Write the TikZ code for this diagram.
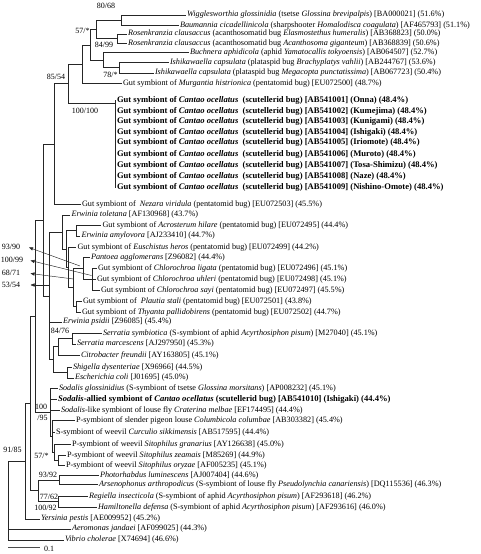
\documentclass[tikz,border=0pt]{standalone}
\usepackage{fontspec}
\setmainfont{Liberation Serif}
\usetikzlibrary{arrows.meta}
\begin{document}
\begin{tikzpicture}[x=1pt,y=-1pt,
  br/.style={line width=0.6pt, draw=black!85},
  lf/.style={anchor=west, inner xsep=1.3pt, inner ysep=0pt, font=\fontsize{8.2}{9}\selectfont},
  lfb/.style={lf, font=\fontsize{8.6}{9}\selectfont\bfseries},
  bs/.style={inner sep=0pt, font=\fontsize{8}{9}\selectfont},
  callout/.style={line width=0.45pt, draw=black!85, -{Triangle[length=4pt,width=3.2pt]}}]
\useasboundingbox (0,0) rectangle (480,554);
% internal nodes
\coordinate (A) at (121,20.25);
\coordinate (B) at (117,38.75);
\coordinate (C) at (96,29.5);
\coordinate (E) at (119,67.75);
\coordinate (D) at (103,60.1);
\coordinate (F) at (90.7,44.8);
\coordinate (G) at (82,64.2);
\coordinate (I) at (115,103);
\coordinate (H) at (68,83.6);
\coordinate (K) at (54,143.8);
\coordinate (L) at (76,230.75);
\coordinate (CH) at (92,279.25);
\coordinate (PA) at (83,268.4);
\coordinate (PT) at (76,306.5);
\coordinate (PB) at (73,287.4);
\coordinate (PC) at (68,267.2);
\coordinate (M) at (66,249);
\coordinate (N) at (62,232);
\coordinate (Q) at (72,338.5);
\coordinate (R) at (58,346.75);
\coordinate (SE) at (67,372.75);
\coordinate (S) at (53,359.75);
\coordinate (T) at (49,295.9);
\coordinate (J) at (43,219.8);
\coordinate (U) at (58,460.25);
\coordinate (V) at (54,452.4);
\coordinate (EE) at (52,436.4);
\coordinate (DD) at (50,412.5);
\coordinate (CC) at (35,316.1);
\coordinate (W) at (59,480);
\coordinate (Y) at (58,501.5);
\coordinate (X) at (38,490.75);
\coordinate (BB) at (30,403.4);
\coordinate (AA) at (25,461.2);
\coordinate (RT) at (8,461.2);
% leaves
\node[lf] (l1) at (185.5,15) {\textit{Wigglesworthia glossinidia} (tsetse \textit{Glossina brevipalpis}) [BA000021] (51.6\%)};
\node[lf] (l2) at (178.5,25.5) {\textit{Baumannia cicadellinicola} (sharpshooter \textit{Homalodisca coagulata}) [AF465793] (51.1\%)};
\node[lf] (l3) at (126.5,34) {\textit{Rosenkranzia clausaccus} (acanthosomatid bug \textit{Elasmostethus humeralis}) [AB368823] (50.0\%)};
\node[lf] (l4) at (126.5,43.5) {\textit{Rosenkranzia clausaccus} (acanthosomatid bug \textit{Acanthosoma giganteum}) [AB368839] (50.6\%)};
\node[lf] (l5) at (188.5,52.5) {\textit{Buchnera aphidicola} (aphid \textit{Yamatocallis tokyoensis}) [AB064507] (52.7\%)};
\node[lf] (l6) at (168.5,62.5) {\textit{Ishikawaella capsulata} (plataspid bug \textit{Brachyplatys vahlii}) [AB244767] (53.6\%)};
\node[lf] (l7) at (153.5,73) {\textit{Ishikawaella capsulata} (plataspid bug \textit{Megacopta punctatissima}) [AB067723] (50.4\%)};
\node[lf] (l8) at (121.5,83.5) {Gut symbiont of \textit{Murgantia histrionica} (pentatomid bug) [EU072500] (48.7\%)};
\node[lfb] (l9) at (115.5,100) {Gut symbiont of \textit{Cantao ocellatus}\ \ (scutellerid bug) [AB541001] (Onna) (48.4\%)};
\node[lfb] (l10) at (115.5,111) {Gut symbiont of \textit{Cantao ocellatus}\ \ (scutellerid bug) [AB541002] (Kumejima) (48.4\%)};
\node[lfb] (l11) at (115.5,121.5) {Gut symbiont of \textit{Cantao ocellatus}\ \ (scutellerid bug) [AB541003] (Kunigami) (48.4\%)};
\node[lfb] (l12) at (115.5,132) {Gut symbiont of \textit{Cantao ocellatus}\ \ (scutellerid bug) [AB541004] (Ishigaki) (48.4\%)};
\node[lfb] (l13) at (115.5,142.5) {Gut symbiont of \textit{Cantao ocellatus}\ \ (scutellerid bug) [AB541005] (Iriomote) (48.4\%)};
\node[lfb] (l14) at (115.5,154) {Gut symbiont of \textit{Cantao ocellatus}\ \ (scutellerid bug) [AB541006] (Muroto) (48.4\%)};
\node[lfb] (l15) at (115.5,165) {Gut symbiont of \textit{Cantao ocellatus}\ \ (scutellerid bug) [AB541007] (Tosa-Shimizu) (48.4\%)};
\node[lfb] (l16) at (115.5,176) {Gut symbiont of \textit{Cantao ocellatus}\ \ (scutellerid bug) [AB541008] (Naze) (48.4\%)};
\node[lfb] (l17) at (115.5,187) {Gut symbiont of \textit{Cantao ocellatus}\ \ (scutellerid bug) [AB541009] (Nishino-Omote) (48.4\%)};
\node[lf] (l18) at (80.5,204) {Gut symbiont of\ \ \textit{Nezara viridula} (pentatomid bug) [EU072503] (45.5\%)};
\node[lf] (l19) at (70,215) {\textit{Erwinia toletana} [AF130968] (43.7\%)};
\node[lf] (l20) at (101,225.5) {Gut symbiont of \textit{Acrosterum hilare} (pentatomid bug) [EU072495] (44.4\%)};
\node[lf] (l21) at (80,236) {\textit{Erwinia amylovora} [AJ233410] (44.7\%)};
\node[lf] (l22) at (76,247) {Gut symbiont of \textit{Euschistus heros} (pentatomid bug) [EU072499] (44.2\%)};
\node[lf] (l23) at (89.5,257.5) {\textit{Pantoea agglomerans} [Z96082] (44.4\%)};
\node[lf] (l24) at (96.5,268.5) {Gut symbiont of \textit{Chlorochroa ligata} (pentatomid bug) [EU072496] (45.1\%)};
\node[lf] (l25) at (95.5,279) {Gut symbiont of \textit{Chlorochroa uhleri} (pentatomid bug) [EU072498] (45.1\%)};
\node[lf] (l26) at (99.5,290) {Gut symbiont of \textit{Chlorochroa sayi} (pentatomid bug) [EU072497] (45.5\%)};
\node[lf] (l27) at (81.5,301) {Gut symbiont of\ \ \textit{Plautia stali} (pentatomid bug) [EU072501] (43.8\%)};
\node[lf] (l28) at (80.5,312) {Gut symbiont of \textit{Thyanta pallidobirens} (pentatomid bug) [EU072502] (44.7\%)};
\node[lf] (l29) at (61.5,322) {\textit{Erwinia psidii} [Z96085] (45.4\%)};
\node[lf] (l30) at (101.5,333) {\textit{Serratia symbiotica} (S-symbiont of aphid \textit{Acyrthosiphon pisum}) [M27040] (45.1\%)};
\node[lf] (l31) at (75.5,344) {\textit{Serratia marcescens} [AJ297950] (45.3\%)};
\node[lf] (l32) at (79.5,355) {\textit{Citrobacter freundii} [AY163805] (45.1\%)};
\node[lf] (l33) at (71.5,367.5) {\textit{Shigella dysenteriae} [X96966] (44.5\%)};
\node[lf] (l34) at (73.5,378) {\textit{Escherichia coli} [J01695] (45.0\%)};
\node[lf] (l35) at (57.5,388.5) {\textit{Sodalis glossinidius} (S-symbiont of tsetse \textit{Glossina morsitans}) [AP008232] (45.1\%)};
\node[lfb] (l36) at (56.5,399) {\textit{Sodalis}-allied symbiont of \textit{Cantao ocellatus} (scutellerid bug) [AB541010] (Ishigaki) (44.4\%)};
\node[lf] (l37) at (59.5,410) {\textit{Sodalis}-like symbiont of louse fly \textit{Craterina melbae} [EF174495] (44.4\%)};
\node[lf] (l38) at (74.5,420.5) {P-symbiont of slender pigeon louse \textit{Columbicola columbae} [AB303382] (45.4\%)};
\node[lf] (l39) at (54.5,432) {S-symbiont of weevil \textit{Curculio sikkimensis} [AB517595] (44.4\%)};
\node[lf] (l40) at (70.5,444.5) {P-symbiont of weevil \textit{Sitophilus granarius} [AY126638] (45.0\%)};
\node[lf] (l41) at (65.5,455) {P-symbiont of weevil \textit{Sitophilus zeamais} [M85269] (44.9\%)};
\node[lf] (l42) at (64.5,465.5) {P-symbiont of weevil \textit{Sitophilus oryzae} [AF005235] (45.1\%)};
\node[lf] (l43) at (98.5,475.5) {\textit{Photorhabdus luminescens} [AJ007404] (44.6\%)};
\node[lf] (l44) at (97.5,484.5) {\textit{Arsenophonus arthropodicus} (S-symbiont of louse fly \textit{Pseudolynchia canariensis}) [DQ115536] (46.3\%)};
\node[lf] (l45) at (87.5,496) {\textit{Regiella insecticola} (S-symbiont of aphid \textit{Acyrthosiphon pisum}) [AF293618] (46.2\%)};
\node[lf] (l46) at (96.5,507) {\textit{Hamiltonella defensa} (S-symbiont of aphid \textit{Acyrthosiphon pisum}) [AF293616] (46.0\%)};
\node[lf] (l47) at (39.5,519) {\textit{Yersinia pestis} [AE009952] (45.2\%)};
\node[lf] (l48) at (70.5,529) {\textit{Aeromonas jandaei} [AF099025] (44.3\%)};
\node[lf] (l49) at (63.5,540) {\textit{Vibrio cholerae} [X74694] (46.6\%)};
% branches
\draw[br] (A) |- (l1.west) (A) |- (l2.west);
\draw[br] (B) |- (l3.west) (B) |- (l4.west);
\draw[br] (C) |- (A) (C) |- (B);
\draw[br] (E) |- (l6.west) (E) |- (l7.west);
\draw[br] (D) |- (l5.west) (D) |- (E);
\draw[br] (F) |- (C) (F) |- (D);
\draw[br] (G) |- (F) (G) |- (l8.west);
\draw[br] (I) |- (l9.west) (I) |- (l10.west) (I) |- (l11.west) (I) |- (l12.west) (I) |- (l13.west) (I) |- (l14.west) (I) |- (l15.west) (I) |- (l16.west) (I) |- (l17.west);
\draw[br] (H) |- (G) (H) |- (I);
\draw[br] (K) |- (H) (K) |- (l18.west);
\draw[br] (L) |- (l20.west) (L) |- (l21.west);
\draw[br] (CH) |- (l24.west) (CH) |- (l25.west) (CH) |- (l26.west);
\draw[br] (PA) |- (l23.west) (PA) |- (CH);
\draw[br] (PT) |- (l27.west) (PT) |- (l28.west);
\draw[br] (PB) |- (PA) (PB) |- (PT);
\draw[br] (PC) |- (l22.west) (PC) |- (PB);
\draw[br] (M) |- (L) (M) |- (PC);
\draw[br] (N) |- (l19.west) (N) |- (M);
\draw[br] (Q) |- (l30.west) (Q) |- (l31.west);
\draw[br] (R) |- (Q) (R) |- (l32.west);
\draw[br] (SE) |- (l33.west) (SE) |- (l34.west);
\draw[br] (S) |- (R) (S) |- (SE);
\draw[br] (T) |- (N) (T) |- (l29.west) (T) |- (S);
\draw[br] (J) |- (K) (J) |- (T);
\draw[br] (U) |- (l41.west) (U) |- (l42.west);
\draw[br] (V) |- (l40.west) (V) |- (U);
\draw[br] (EE) |- (l38.west) (EE) |- (l39.west) (EE) |- (V);
\draw[br] (DD) |- (l35.west) (DD) |- (l36.west) (DD) |- (l37.west) (DD) |- (EE);
\draw[br] (CC) |- (J) (CC) |- (DD);
\draw[br] (W) |- (l43.west) (W) |- (l44.west);
\draw[br] (Y) |- (l45.west) (Y) |- (l46.west);
\draw[br] (X) |- (W) (X) |- (Y);
\draw[br] (BB) |- (CC) (BB) |- (X);
\draw[br] (AA) |- (BB) (AA) |- (l47.west);
\draw[br] (RT) -- (AA) (RT) |- (l48.west) (RT) |- (l49.west);
% bootstrap labels
\node[bs] (b1) at (106,6) {80/68};
\node[bs] (b2) at (82.5,31) {57/*};
\node[bs] (b3) at (104,45) {84/99};
\node[bs] (b4) at (110.5,74.5) {78/*};
\node[bs] (b5) at (56,77) {85/54};
\node[bs] (b6) at (85,111) {100/100};
\node[bs] (b7) at (60,331) {84/76};
\node[bs] (b8) at (41,407) {100};
\node[bs] (b9) at (42.5,418) {/95};
\node[bs] (b10) at (41.5,455.5) {57/*};
\node[bs] (b11) at (12.5,450) {91/85};
\node[bs] (b12) at (48,474.5) {93/92};
\node[bs] (b13) at (49,496.5) {77/62};
\node[bs] (b14) at (45.5,507.5) {100/92};
% callouts
\node[bs] (c1) at (11,247) {93/90};
\node[bs] (c2) at (12,259.5) {100/99};
\node[bs] (c3) at (11,273) {68/71};
\node[bs] (c4) at (11,285) {53/54};
\coordinate (c1t) at (29,247.5);
\coordinate (c2t) at (30.5,260.5);
\coordinate (c3t) at (30.5,273.5);
\coordinate (c4t) at (30.5,285);
\coordinate (c1e) at (80,266);
\coordinate (c2e) at (91.5,275.5);
\coordinate (c3e) at (73.5,279);
\coordinate (c4e) at (48.5,285);
\draw[callout] (c1e) -- (c1t);
\draw[callout] (c2e) -- (c2t);
\draw[callout] (c3e) -- (c3t);
\draw[callout] (c4e) -- (c4t);
% scale bar
\coordinate (sb1) at (8,547.5);
\coordinate (sb2) at (40,547.5);
\draw[br, draw=black!70] (sb1) -- (sb2);
\node[bs, anchor=west] (sbl) at (44,548.5) {0.1};
\end{tikzpicture}
\end{document}
